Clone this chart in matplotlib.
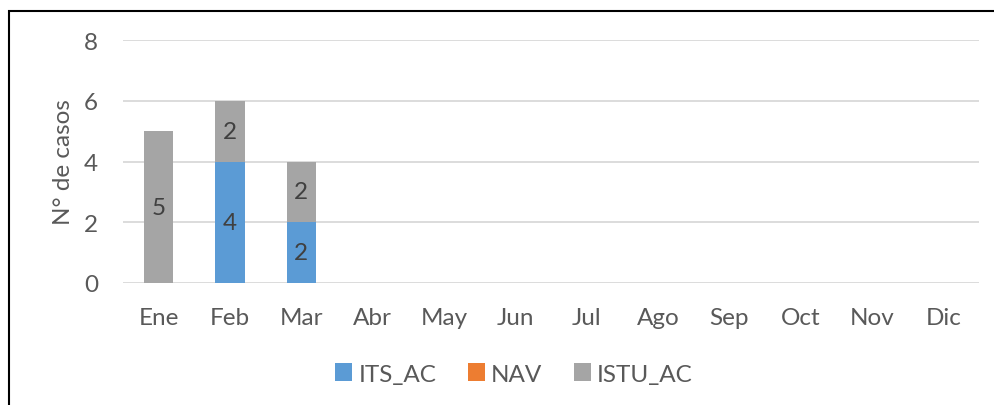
import numpy as np
import matplotlib
matplotlib.use("Agg")
import matplotlib.pyplot as plt
from matplotlib.patches import Rectangle

plt.rcParams['font.family'] = ['Lato', 'DejaVu Sans']

# Data
meses = ["Ene", "Feb", "Mar", "Abr", "May", "Jun", "Jul", "Ago", "Sep", "Oct", "Nov", "Dic"]
its_ac = [0, 4, 2, 0, 0, 0, 0, 0, 0, 0, 0, 0]
nav = [0, 0, 0, 0, 0, 0, 0, 0, 0, 0, 0, 0]
istu_ac = [5, 2, 2, 0, 0, 0, 0, 0, 0, 0, 0, 0]

series = [("ITS_AC", its_ac, "#5B9BD5"),
          ("NAV", nav, "#ED7D31"),
          ("ISTU_AC", istu_ac, "#A5A5A5")]

TXT = "#595959"
FS = 17.5

fig = plt.figure(figsize=(9.94, 4.06), dpi=100)
ax = fig.add_axes([123/994, 1 - 284/406, (979 - 123)/994, (284 - 41)/406])

x = np.arange(len(meses))
bottom = np.zeros(len(meses))
for name, vals, col in series:
    vals = np.array(vals, dtype=float)
    ax.bar(x, vals, width=0.41, bottom=bottom, color=col, label=name, zorder=3)
    for xi, b, v in zip(x, bottom, vals):
        if v > 0:
            ax.text(xi, b + v / 2, f"{int(v)}", ha="center", va="center",
                    fontsize=FS, color="#404040", zorder=4)
    bottom += vals

ax.set_xlim(-0.5, len(meses) - 0.5)
ax.set_ylim(0, 8)
ax.set_yticks([0, 2, 4, 6, 8])
ax.set_xticks(x)
ax.set_xticklabels(meses)
ax.grid(axis="y", color="#D9D9D9", linewidth=1.3, zorder=0)
for s in ax.spines.values():
    s.set_visible(False)
ax.tick_params(axis="both", length=0, labelsize=FS, colors=TXT)
ax.tick_params(axis="x", pad=17)
ax.tick_params(axis="y", pad=18)
ax.set_ylabel("N° de casos", fontsize=FS, color=TXT, labelpad=7)

leg = fig.legend(loc="center", bbox_to_anchor=(514/994, 1 - 375/406), ncol=3,
                 frameon=False, fontsize=FS, handlelength=0.7, handleheight=0.7,
                 handletextpad=0.25, columnspacing=1.3)
for t in leg.get_texts():
    t.set_color(TXT)

# outer frame (top and left visible)
fig.add_artist(Rectangle((8.5/994, -0.05), 1.2, 1 - 12/406 + 0.05,
                         transform=fig.transFigure, fill=False,
                         edgecolor="black", linewidth=1.5))

fig.savefig("out.png", dpi=100)
